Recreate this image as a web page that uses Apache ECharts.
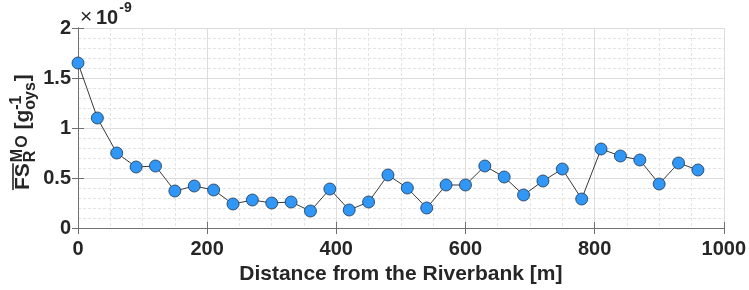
<!DOCTYPE html>
<html><head><meta charset="utf-8">
<script src="https://cdn.jsdelivr.net/npm/echarts@6/dist/echarts.min.js"></script>
<style>html,body{margin:0;padding:0;background:#fff}#c{width:749px;height:290px}</style>
</head><body><div id="c"></div>
<script>
// Data (values in units of 1e-9)
const distances = [0,30,60,90,120,150,180,210,240,270,300,330,360,390,420,450,480,510,540,570,600,630,660,690,720,750,780,810,840,870,900,930,960];
const fsValues = [1.65,1.10,0.75,0.61,0.62,0.37,0.42,0.38,0.24,0.28,0.25,0.26,0.17,0.39,0.18,0.26,0.53,0.40,0.20,0.43,0.43,0.62,0.51,0.33,0.47,0.59,0.29,0.79,0.72,0.68,0.44,0.65,0.58];
const xTickLabels = ['0','200','400','600','800','1000'];
const yTickLabels = ['0','0.5','1','1.5','2'];
const xAxisTitle = 'Distance from the Riverbank [m]';

const FONT = '"Liberation Sans", Arial, Helvetica, sans-serif';
const TXT = '#262626';
const AXC = '#707070';

const chart = echarts.init(document.getElementById('c'), null, {renderer: 'canvas'});

const cv = document.createElement('canvas').getContext('2d');
function w(t, f) { cv.font = f; return cv.measureText(t).width; }
function txt(t, x, base, size, bold) {
  const f = (bold ? 'bold ' : '') + size + 'px ' + FONT;
  return {type: 'text', x: x, y: base - 0.35 * size, silent: true,
    style: {text: t, font: f, fill: TXT, align: 'left', verticalAlign: 'middle'}};
}

// y-axis title built from pieces (overline, super/subscripts)
const MS = 21, SS = 16;
const mf = 'bold ' + MS + 'px ' + FONT, sf = 'bold ' + SS + 'px ' + FONT;
const kids = [];
let cx = 0;
const wFS = w('FS', mf);
kids.push(txt('FS', cx, 0, MS, true));
kids.push({type: 'line', silent: true, shape: {x1: 0, y1: -18, x2: wFS, y2: -18}, style: {stroke: TXT, lineWidth: 1.6}});
cx += wFS + 1;
kids.push(txt('M', cx, -8, SS, true));
kids.push(txt('R', cx, 5, SS, true));
cx += Math.max(w('M', sf), w('R', sf)) + 1;
kids.push(txt('O', cx, -3, SS, true));
cx += w('O', sf) + w(' ', mf);
kids.push(txt('[g', cx, 0, MS, true));
cx += w('[g', mf);
kids.push(txt('-1', cx, -9, SS, true));
kids.push(txt('oys', cx, 5, SS, true));
cx += Math.max(w('-1', sf), w('oys', sf)) + 1;
kids.push(txt(']', cx, 0, MS, true));

// exponent label
const ex = [];
ex.push(txt('\u00d7', 80, 25, 21, false));
ex.push(txt('10', 96, 25, 20, true));
ex.push(txt('-9', 96 + w('10', 'bold 20px ' + FONT) + 1, 13, 14, true));

const axisCommon = {
  type: 'value',
  axisLine: {show: true, lineStyle: {color: AXC, width: 1}},
  axisTick: {show: true, inside: true, length: 6, lineStyle: {color: AXC}},
  minorTick: {show: false, splitNumber: 4}
};

chart.setOption({
  animation: false,
  backgroundColor: '#fff',
  grid: {left: 78, right: 24, top: 28, bottom: 62, containLabel: false},
  xAxis: [
    Object.assign({}, axisCommon, {
      position: 'bottom', min: 0, max: 1000, interval: 200,
      axisLabel: {margin: 11, fontSize: 20, fontWeight: 'bold', color: TXT, fontFamily: FONT,
        formatter: (v) => xTickLabels[Math.round(v / 200)]},
      splitLine: {show: true, lineStyle: {color: '#dcdcdc', width: 1}},
      minorTick: {show: false, splitNumber: 4},
      minorSplitLine: {show: true, lineStyle: {color: '#e3e3e3', width: 1, type: [3, 2]}},
      name: xAxisTitle, nameLocation: 'middle', nameGap: 36,
      nameTextStyle: {fontSize: 21, fontWeight: 'bold', color: TXT, fontFamily: FONT}
    }),
    Object.assign({}, axisCommon, {
      position: 'top', min: 0, max: 1000, interval: 200,
      axisLabel: {show: false}, splitLine: {show: false}
    })
  ],
  yAxis: [
    Object.assign({}, axisCommon, {
      position: 'left', min: 0, max: 2, interval: 0.5,
      axisLabel: {margin: 7, fontSize: 20, fontWeight: 'bold', color: TXT, fontFamily: FONT,
        formatter: (v) => yTickLabels[Math.round(v / 0.5)]},
      splitLine: {show: true, lineStyle: {color: '#dcdcdc', width: 1}},
      minorTick: {show: false, splitNumber: 5},
      minorSplitLine: {show: true, lineStyle: {color: '#e3e3e3', width: 1, type: [3, 2]}}
    }),
    Object.assign({}, axisCommon, {
      position: 'right', min: 0, max: 2, interval: 0.5,
      axisLabel: {show: false}, splitLine: {show: false}
    })
  ],
  series: [{
    type: 'line',
    xAxisIndex: 0, yAxisIndex: 0,
    data: distances.map((d, i) => [d, fsValues[i]]),
    symbol: 'circle', symbolSize: 12,
    lineStyle: {color: '#3a3a3a', width: 1},
    itemStyle: {color: '#3097f7', borderColor: '#1f3550', borderWidth: 0.8},
    z: 5
  }],
  graphic: [
    {type: 'group', x: 31, y: 190, rotation: Math.PI / 2, children: kids},
    {type: 'group', x: 0, y: 0, children: ex}
  ]
});
</script>
</body></html>
